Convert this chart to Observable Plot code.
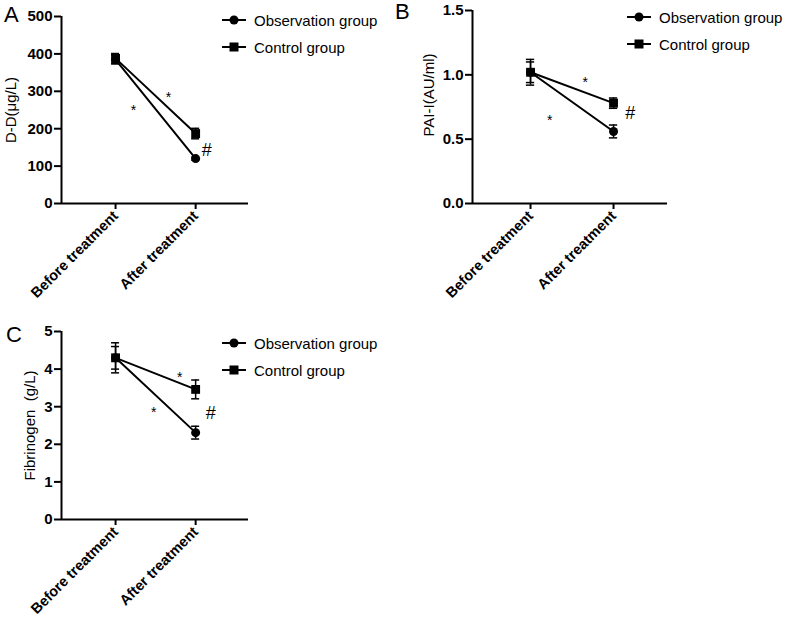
<!DOCTYPE html>
<html><head><meta charset="utf-8">
<script src="https://cdn.jsdelivr.net/npm/d3@7"></script>
<script src="https://cdn.jsdelivr.net/npm/@observablehq/plot@0.6"></script>
<style>
body{margin:0;background:#fff;font-family:"Liberation Sans",Arial,sans-serif;}
#wrap{position:relative;width:792px;height:621px;overflow:hidden;}
.panel{position:absolute;}
.panel svg{display:block;overflow:visible;}
.letter{position:absolute;font-size:22px;color:#000;line-height:1;}
.legend{position:absolute;font-size:15px;color:#000;}
.legrow{position:absolute;left:0;white-space:nowrap;display:flex;align-items:center;height:20px;}
.legrow svg{margin-right:8px;}
</style></head><body><div id="wrap"></div>
<script>
// ---- shared categories ----
const timepoints = ["Before treatment", "After treatment"];
const groups = ["Observation group", "Control group"];

// ---- Panel A: D-D (μg/L) ----
const ddObsMean = [385, 120];
const ddObsSD = [12, 4];
const ddCtrlMean = [388, 187];
const ddCtrlSD = [13, 14];
const ddTicks = [0, 100, 200, 300, 400, 500];
const ddStars = [{t: 0.225, v: 257}, {t: 0.66, v: 291}];
const ddHash = [{t: 1.14, v: 142}];

// ---- Panel B: PAI-I (AU/ml) ----
const paiObsMean = [1.02, 0.56];
const paiObsSD = [0.10, 0.05];
const paiCtrlMean = [1.02, 0.78];
const paiCtrlSD = [0.08, 0.04];
const paiTicks = [0, 0.5, 1.0, 1.5];
const paiStars = [{t: 0.23, v: 0.67}, {t: 0.66, v: 0.96}];
const paiHash = [{t: 1.2, v: 0.70}];

// ---- Panel C: Fibrinogen (g/L) ----
const fibObsMean = [4.30, 2.31];
const fibObsSD = [0.40, 0.17];
const fibCtrlMean = [4.30, 3.46];
const fibCtrlSD = [0.30, 0.25];
const fibTicks = [0, 1, 2, 3, 4, 5];
const fibStars = [{t: 0.475, v: 2.93}, {t: 0.80, v: 3.86}];
const fibHash = [{t: 1.19, v: 2.82}];

function rowsFrom(obsM, obsS, ctrlM, ctrlS) {
  const rows = [];
  timepoints.forEach((tp, i) => rows.push({group: groups[0], t: i, mean: obsM[i], sd: obsS[i]}));
  timepoints.forEach((tp, i) => rows.push({group: groups[1], t: i, mean: ctrlM[i], sd: ctrlS[i]}));
  return rows;
}

const FONT = '"Liberation Sans", Arial, sans-serif';

function panel(cfg) {
  const rows = rowsFrom(...cfg.values);
  const xDom = cfg.xDomain, yMax = cfg.ticks[cfg.ticks.length - 1];
  const cap = cfg.cap;
  const plot = Plot.plot({
    width: cfg.width, height: cfg.height,
    marginLeft: cfg.ml, marginRight: cfg.mr, marginTop: cfg.mt, marginBottom: cfg.mb,
    style: {fontFamily: FONT, fontSize: "15px", color: "#000", background: "transparent"},
    x: {domain: xDom, axis: null},
    y: {domain: [0, yMax], axis: null},
    marks: [
      Plot.axisX({ticks: [0, 1], tickFormat: i => timepoints[i], tickRotate: -45, tickSize: 6, tickPadding: 4,
        strokeWidth: 2, fontWeight: "bold", fontSize: 14.5, label: null}),
      Plot.axisY({ticks: cfg.ticks, tickFormat: cfg.fmt, tickSize: 7, tickPadding: 2,
        strokeWidth: 2, fontWeight: "bold", fontSize: 15, label: null}),
      Plot.ruleY([0], {x1: xDom[0], x2: xDom[1], strokeWidth: 2}),
      Plot.ruleX([xDom[0]], {y1: 0, y2: yMax, strokeWidth: 2}),
      Plot.text([cfg.ylabel], {frameAnchor: "left", textAnchor: "middle", rotate: -90, dx: -cfg.labelOff, dy: cfg.labelDy || 0, fontSize: 15, text: d => d}),
      Plot.line(rows, {x: "t", y: "mean", z: "group", stroke: "#000", strokeWidth: 2}),
      Plot.ruleX(rows, {x: "t", y1: d => d.mean - d.sd, y2: d => d.mean + d.sd, strokeWidth: 1.5}),
      Plot.ruleY(rows, {y: d => d.mean + d.sd, x1: d => d.t - cap, x2: d => d.t + cap, strokeWidth: 1.5}),
      Plot.ruleY(rows, {y: d => d.mean - d.sd, x1: d => d.t - cap, x2: d => d.t + cap, strokeWidth: 1.5}),
      Plot.dot(rows.filter(d => d.group === groups[0]), {x: "t", y: "mean", symbol: "circle", r: 4.5, fill: "#000", stroke: "none"}),
      Plot.dot(rows.filter(d => d.group === groups[1]), {x: "t", y: "mean", symbol: "square", r: 5, fill: "#000", stroke: "none"}),
      Plot.text(cfg.stars, {x: "t", y: "v", text: () => "*", fontSize: 14, dy: 3}),
      Plot.text(cfg.hash, {x: "t", y: "v", text: () => "#", fontSize: 18})
    ]
  });
  return plot;
}

function legend(left, top) {
  const div = document.createElement("div");
  div.className = "legend";
  div.style.left = left + "px"; div.style.top = top + "px";
  const mk = (shape, y, label) => {
    const r = document.createElement("div");
    r.className = "legrow"; r.style.top = y + "px";
    const marker = shape === "circle"
      ? '<circle cx="12" cy="10" r="4.5" fill="#000"/>'
      : '<rect x="7.5" y="5.5" width="9" height="9" fill="#000"/>';
    r.innerHTML = '<svg width="24" height="20"><line x1="0" x2="24" y1="10" y2="10" stroke="#000" stroke-width="2"/>' + marker + '</svg><span>' + label + '</span>';
    div.appendChild(r);
  };
  mk("circle", 0, groups[0]);
  mk("square", 27, groups[1]);
  return div;
}

function place(el, left, top) {
  const d = document.createElement("div");
  d.className = "panel"; d.style.left = left + "px"; d.style.top = top + "px";
  d.appendChild(el);
  document.getElementById("wrap").appendChild(d);
}
function letter(txt, left, top) {
  const d = document.createElement("div");
  d.className = "letter"; d.textContent = txt;
  d.style.left = left + "px"; d.style.top = top + "px";
  document.getElementById("wrap").appendChild(d);
}

// Panel A
place(panel({
  values: [ddObsMean, ddObsSD, ddCtrlMean, ddCtrlSD], ticks: ddTicks, fmt: d3.format("d"),
  width: 260, height: 310, ml: 61, mr: 12, mt: 16, mb: 107, xDomain: [-0.675, 1.66], cap: 0.05,
  ylabel: "D-D(μg/L)", labelOff: 50, stars: ddStars, hash: ddHash
}), 0, 0);
letter("A", 4, 4);
document.getElementById("wrap").appendChild(legend(222, 10));

// Panel B
place(panel({
  values: [paiObsMean, paiObsSD, paiCtrlMean, paiCtrlSD], ticks: paiTicks, fmt: d3.format(".1f"),
  width: 260, height: 310, ml: 61, mr: 4, mt: 10, mb: 107, xDomain: [-0.699, 1.65], cap: 0.05,
  ylabel: "PAI-I(AU/ml)", labelOff: 43, labelDy: -12, stars: paiStars, hash: paiHash
}), 411, 0);
letter("B", 395, 1);
document.getElementById("wrap").appendChild(legend(627, 7));

// Panel C
place(panel({
  values: [fibObsMean, fibObsSD, fibCtrlMean, fibCtrlSD], ticks: fibTicks, fmt: d3.format("d"),
  width: 260, height: 321, ml: 61, mr: 12, mt: 31, mb: 102, xDomain: [-0.675, 1.66], cap: 0.05,
  ylabel: "Fibrinogen  (g/L)", labelOff: 31, stars: fibStars, hash: fibHash
}), 0, 300);
letter("C", 6, 324);
document.getElementById("wrap").appendChild(legend(222, 333));
</script></body></html>
